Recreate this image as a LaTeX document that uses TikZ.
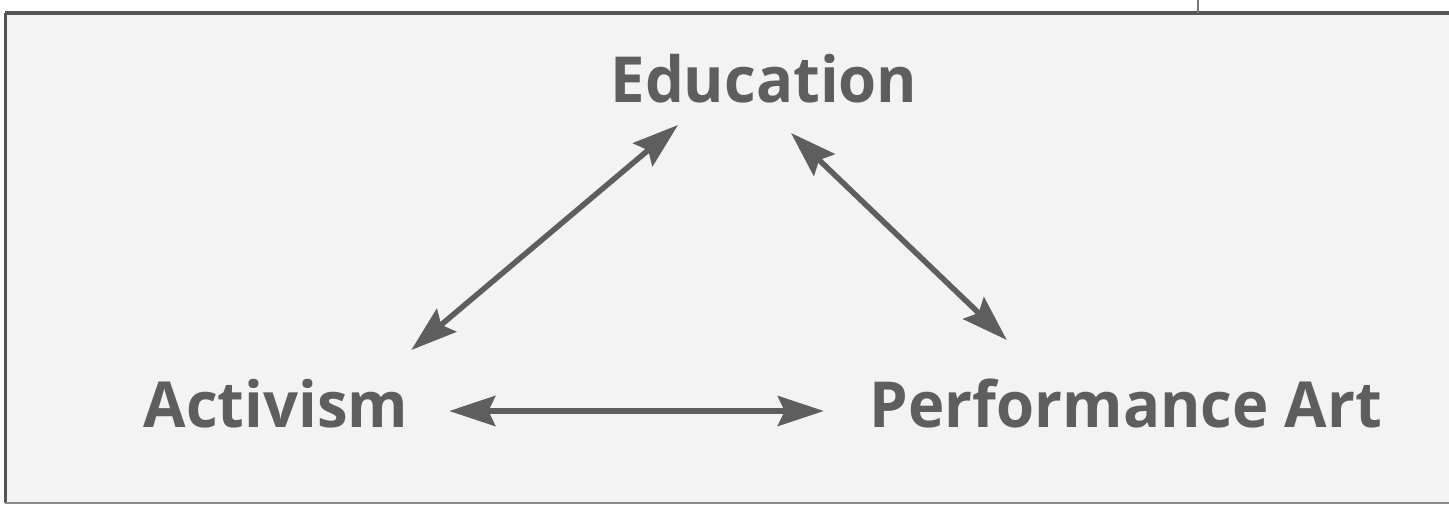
\documentclass[tikz,border=0pt]{standalone}
\usepackage{fontspec}
\setmainfont{Open Sans}[FakeStretch=0.97]
\usetikzlibrary{arrows.meta,calc}
\definecolor{ink}{HTML}{5E5E5E}
\definecolor{frame}{HTML}{555555}
\definecolor{paper}{HTML}{F3F3F3}
\tikzset{
  label/.style={inner sep=0pt, outer sep=0pt, text=ink, font=\bfseries\fontsize{63.5}{70}\selectfont, anchor=base},
  tip/.style={Stealth[length=46pt,width=30pt,inset=7pt]},
  link/.style={draw=ink, line width=5.5pt, {Stealth[length=46pt,width=30pt,inset=7pt]}-{Stealth[length=46pt,width=30pt,inset=7pt]}},
}
\begin{document}
\begin{tikzpicture}[x=1pt,y=-1pt]
\useasboundingbox (0,0) rectangle (1449,505);
\fill[white] (0,0) rectangle (1449,505);
\fill[paper] (5,13) rectangle (1449,503);
\draw[frame, line width=4pt] (5,13) -- (1449,13);
\draw[frame, line width=3pt] (5,13) -- (5,503);
\draw[frame!70, line width=2pt] (5,503) -- (1449,503);
\draw[frame!80, line width=2pt] (1198,0) -- (1198,13);
\node[label] (edu) at (764,103) {Education};
\node[label] (act) at (276,427) {Activism};
\node[label] (perf) at (1126,427) {Performance Art};
\draw[link] ($(edu.base)+(-86,22)$) -- ($(act.base east)+(3,-77)$);
\draw[link] ($(edu.base)+(27,30)$) -- ($(perf.base west)+(137,-87)$);
\draw[link] ($(act.base east)+(41,-16)$) -- ($(perf.base west)+(-46,-16)$);
\end{tikzpicture}
\end{document}
